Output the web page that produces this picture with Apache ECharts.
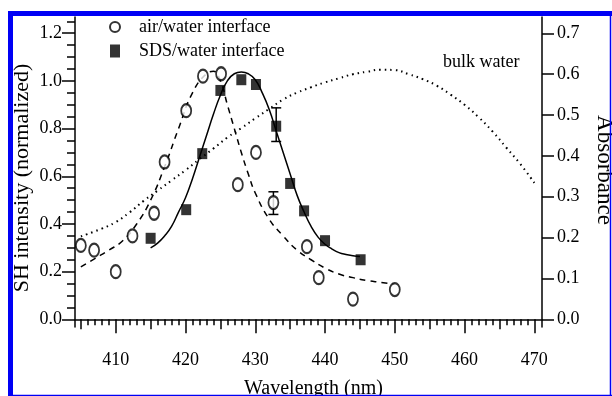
<!DOCTYPE html>
<html>
<head>
<meta charset="utf-8">
<script src="https://cdn.jsdelivr.net/npm/echarts@6/dist/echarts.min.js"></script>
<style>
  html, body { margin: 0; padding: 0; background: #fff; }
  #chart { width: 612px; height: 396px; }
</style>
</head>
<body>
<div id="chart"></div>
<script>
// measured points, [wavelength nm, value]
const airPoints = [
  [405.0, 0.31], [406.9, 0.29], [410.0, 0.20], [412.4, 0.35], [415.5, 0.445],
  [417.0, 0.66], [420.1, 0.875], [422.5, 1.02], [425.1, 1.03], [427.5, 0.565],
  [430.1, 0.70], [432.6, 0.49], [437.4, 0.305], [439.1, 0.175], [444.0, 0.085],
  [450.0, 0.125]
];
const sdsPoints = [
  [415.0, 0.34], [420.1, 0.46], [422.4, 0.695], [425.0, 0.96], [428.0, 1.005],
  [430.1, 0.985], [433.0, 0.81], [435.0, 0.57], [437.0, 0.455], [440.0, 0.33],
  [445.1, 0.25]
];
// error bars [x, low, high]
const airErrors = [[432.6, 0.44, 0.535]];
const sdsErrors = [[433.0, 0.746, 0.887]];

// fitted curves
const airFit = [
  [405, 0.22], [407, 0.255], [409, 0.29], [411, 0.33], [413, 0.40], [415, 0.50],
  [417, 0.64], [419, 0.80], [421, 0.95], [423, 1.03], [424, 1.04], [425, 1.00],
  [426, 0.90], [427, 0.80], [428, 0.70], [429, 0.61], [430, 0.53], [432, 0.42],
  [434, 0.35], [436, 0.29], [438, 0.25], [440, 0.215], [442, 0.19], [444, 0.175],
  [446, 0.163], [448, 0.155], [450, 0.147]
];
const sdsFit = [
  [415, 0.30], [416, 0.32], [417, 0.35], [418, 0.39], [419, 0.45], [420, 0.51],
  [421, 0.59], [422, 0.68], [423, 0.77], [424, 0.86], [425, 0.94], [426, 1.00],
  [427, 1.03], [428, 1.037], [429, 1.03], [430, 1.005], [431, 0.95], [432, 0.88],
  [433, 0.79], [434, 0.70], [435, 0.61], [436, 0.52], [437, 0.45], [438, 0.39],
  [439, 0.345], [440, 0.315], [441, 0.295], [442, 0.28], [443, 0.272], [444, 0.267],
  [445, 0.264]
];
// bulk water absorbance (right axis)
const bulkAbs = [
  [405, 0.203], [408, 0.222], [410, 0.238], [412, 0.262], [414, 0.29], [416, 0.315],
  [418, 0.34], [420, 0.365], [422, 0.392], [424, 0.418], [426, 0.445], [428, 0.468],
  [430, 0.492], [432, 0.515], [434, 0.538], [436, 0.555], [438, 0.568], [440, 0.58],
  [442, 0.59], [444, 0.6], [446, 0.606], [448, 0.611], [450, 0.61], [452, 0.6],
  [454, 0.588], [456, 0.572], [458, 0.55], [460, 0.525], [462, 0.495], [464, 0.46],
  [466, 0.42], [468, 0.38], [470, 0.334]
];

const xMajorTicks = [410, 420, 430, 440, 450, 460, 470];
const xMidTicks = [405, 415, 425, 435, 445, 455, 465];
const xMinorTicks = [];
for (let w = 405; w <= 470; w++) xMinorTicks.push(w);
const yLeftTicks = [0, 0.2, 0.4, 0.6, 0.8, 1.0, 1.2];
const yLeftMinorTicks = [];
for (let i = 0; i <= 25; i++) yLeftMinorTicks.push(i * 0.05);
const yRightTicks = [0, 0.1, 0.2, 0.3, 0.4, 0.5, 0.6, 0.7];

const FONT = '"Liberation Serif", "Times New Roman", serif';
const BLUE = '#0000f5';
const X_MIN = 404.16, X_MAX = 471.1;

const axisLine = { show: true, lineStyle: { color: '#000', width: 1.5 } };

function tickAxis(values, len) {
  return {
    type: 'value', min: X_MIN, max: X_MAX, position: 'bottom',
    axisLine: { show: false }, splitLine: { show: false },
    axisLabel: { show: false },
    axisTick: { show: true, customValues: values, length: len, lineStyle: { color: '#000', width: 1.5 } }
  };
}

function errorBars(data) {
  return {
    type: 'custom',
    data: data,
    z: 4,
    renderItem: function (params, api) {
      const lo = api.coord([api.value(0), api.value(1)]);
      const hi = api.coord([api.value(0), api.value(2)]);
      const cap = 5;
      const style = { stroke: '#000', lineWidth: 1.5 };
      return {
        type: 'group',
        children: [
          { type: 'line', shape: { x1: lo[0], y1: lo[1], x2: hi[0], y2: hi[1] }, style: style },
          { type: 'line', shape: { x1: lo[0] - cap, y1: lo[1], x2: lo[0] + cap, y2: lo[1] }, style: style },
          { type: 'line', shape: { x1: hi[0] - cap, y1: hi[1], x2: hi[0] + cap, y2: hi[1] }, style: style }
        ]
      };
    }
  };
}

const chart = echarts.init(document.getElementById('chart'), null, { renderer: 'canvas' });

chart.setOption({
  animation: false,
  backgroundColor: '#fff',
  textStyle: { fontFamily: FONT, color: '#000' },
  grid: { left: 75, right: 70, top: 17, bottom: 69, outerBoundsMode: 'none' },
  legend: {
    orient: 'vertical',
    left: 109,
    top: 18,
    padding: 0,
    itemGap: 6,
    itemWidth: 10,
    itemHeight: 13,
    symbolKeepAspect: false,
    data: ['air/water interface', 'SDS/water interface'],
    textStyle: { fontFamily: FONT, fontSize: 18, color: '#000', padding: [0, 0, 0, 14] }
  },
  xAxis: [
    {
      type: 'value', min: X_MIN, max: X_MAX, position: 'bottom',
      name: 'Wavelength (nm)', nameLocation: 'middle', nameGap: 52, nameMoveOverlap: false,
      nameTextStyle: { fontFamily: FONT, fontSize: 20, color: '#000', padding: [0, 0, 0, 10] },
      axisLine: axisLine, splitLine: { show: false },
      axisTick: { show: true, customValues: xMajorTicks, length: 14, lineStyle: { color: '#000', width: 1.5 } },
      axisLabel: { customValues: xMajorTicks, margin: 24, fontFamily: FONT, fontSize: 18, color: '#000' }
    },
    tickAxis(xMidTicks, 10),
    tickAxis(xMinorTicks, 6)
  ],
  yAxis: [
    {
      type: 'value', min: -0.032, max: 1.268, position: 'left',
      name: 'SH intensity (normalized)', nameLocation: 'middle', nameGap: 42, nameMoveOverlap: false,
      nameTextStyle: { fontFamily: FONT, fontSize: 22, color: '#000', padding: [0, 12, 0, 0] },
      axisLine: axisLine, splitLine: { show: false },
      axisTick: { show: true, customValues: yLeftTicks, length: 13, lineStyle: { color: '#000', width: 1.5 } },
      axisLabel: {
        customValues: yLeftTicks, margin: 13, fontFamily: FONT, fontSize: 18, color: '#000',
        formatter: v => v.toFixed(1)
      }
    },
    {
      type: 'value', min: -0.0188, max: 0.740, position: 'right',
      name: 'Absorbance', nameLocation: 'middle', nameGap: 51, nameRotate: -90, nameMoveOverlap: false,
      nameTextStyle: { fontFamily: FONT, fontSize: 23, color: '#000', padding: [0, 4, 0, 0] },
      axisLine: axisLine, splitLine: { show: false },
      axisTick: { show: true, customValues: yRightTicks, length: 12, lineStyle: { color: '#000', width: 1.5 } },
      axisLabel: {
        customValues: yRightTicks, margin: 15, fontFamily: FONT, fontSize: 18, color: '#000',
        formatter: v => v.toFixed(1)
      }
    },
    {
      type: 'value', min: -0.032, max: 1.268, position: 'left',
      axisLine: { show: false }, splitLine: { show: false }, axisLabel: { show: false },
      axisTick: { show: true, customValues: yLeftMinorTicks, length: 8, lineStyle: { color: '#000', width: 1.5 } }
    }
  ],
  series: [
    {
      name: 'bulk water', type: 'line', yAxisIndex: 1, data: bulkAbs, smooth: true,
      showSymbol: false, z: 1,
      lineStyle: { color: '#000', width: 2, type: [1.5, 4] }
    },
    {
      name: 'air fit', type: 'line', data: airFit, smooth: true, showSymbol: false, z: 2,
      lineStyle: { color: '#000', width: 1.5, type: [6, 5] }
    },
    {
      name: 'SDS fit', type: 'line', data: sdsFit, smooth: true, showSymbol: false, z: 2,
      lineStyle: { color: '#000', width: 1.5 }
    },
    errorBars(airErrors),
    errorBars(sdsErrors),
    {
      name: 'air/water interface', type: 'scatter', data: airPoints, z: 5,
      symbol: 'emptyCircle', symbolSize: [10, 13],
      itemStyle: { color: '#000', borderColor: '#000', borderWidth: 1.5 }
    },
    {
      name: 'SDS/water interface', type: 'scatter', data: sdsPoints, z: 5,
      symbol: 'rect', symbolSize: [10, 11],
      itemStyle: { color: '#000' }
    }
  ],
  graphic: [
    {
      type: 'text', left: 443, top: 53, z: 10,
      style: { text: 'bulk water', font: '18px ' + FONT, fill: '#000' }
    },
    // blue frame round the figure
    { type: 'rect', shape: { x: 8, y: 11, width: 604, height: 5 }, style: { fill: BLUE }, z: 20 },
    { type: 'rect', shape: { x: 8, y: 11, width: 5, height: 385 }, style: { fill: BLUE }, z: 20 },
    { type: 'line', shape: { x1: 610.5, y1: 11, x2: 610.5, y2: 396 }, style: { stroke: BLUE, lineWidth: 1.5 }, z: 20 },
    { type: 'line', shape: { x1: 8, y1: 395.5, x2: 612, y2: 395.5 }, style: { stroke: BLUE, lineWidth: 1.5 }, z: 20 }
  ]
});
</script>
</body>
</html>
